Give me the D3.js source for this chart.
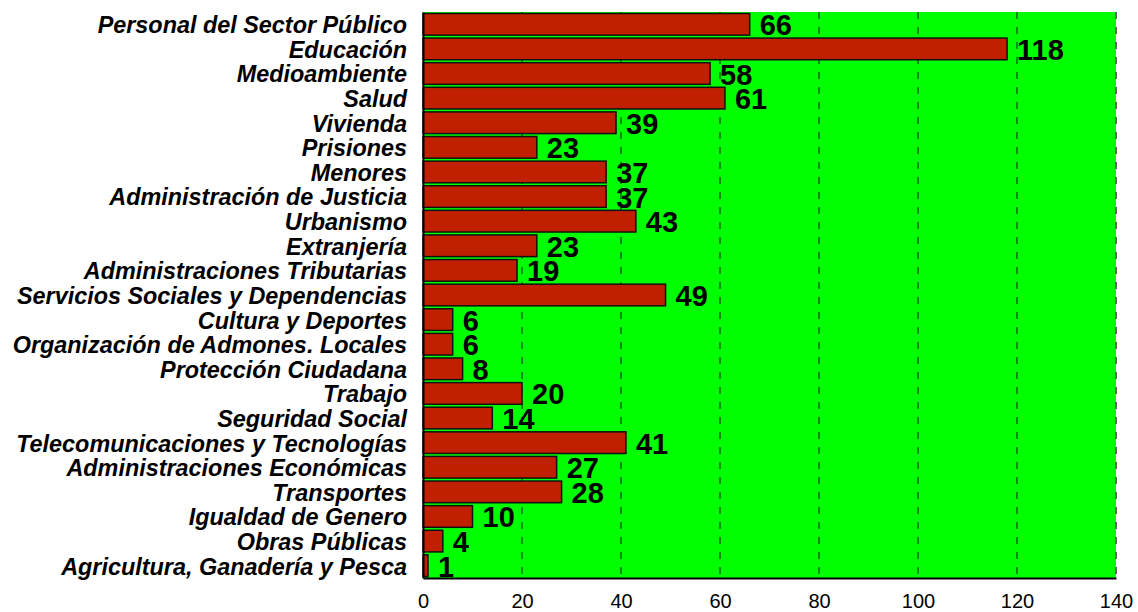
<!DOCTYPE html>
<html>
<head>
<meta charset="utf-8">
<script src="https://cdn.jsdelivr.net/npm/d3@7"></script>
<style>
  body { margin: 0; background: #fff; }
  svg { display: block; }
</style>
</head>
<body>
<svg id="chart"></svg>
<script>
// categories, top to bottom
const categories = [
  "Personal del Sector Público",
  "Educación",
  "Medioambiente",
  "Salud",
  "Vivienda",
  "Prisiones",
  "Menores",
  "Administración de Justicia",
  "Urbanismo",
  "Extranjería",
  "Administraciones Tributarias",
  "Servicios Sociales y Dependencias",
  "Cultura y Deportes",
  "Organización de Admones. Locales",
  "Protección Ciudadana",
  "Trabajo",
  "Seguridad Social",
  "Telecomunicaciones y Tecnologías",
  "Administraciones Económicas",
  "Transportes",
  "Igualdad de Genero",
  "Obras Públicas",
  "Agricultura, Ganadería y Pesca"
];
const values = [66, 118, 58, 61, 39, 23, 37, 37, 43, 23, 19, 49, 6, 6, 8, 20, 14, 41, 27, 28, 10, 4, 1];
const xTicks = [0, 20, 40, 60, 80, 100, 120, 140];

const W = 1138, H = 612;
const margin = { top: 12, right: 22, bottom: 34, left: 423 };
const width = W - margin.left - margin.right;
const height = H - margin.top - margin.bottom;

const svg = d3.select('#chart').attr('width', W).attr('height', H);
const g = svg.append('g').attr('transform', `translate(${margin.left},${margin.top})`);

const x = d3.scaleLinear().domain([0, 140]).range([0, width]);
const y = d3.scaleBand().domain(categories).range([0, height])
  .paddingInner(0.12).paddingOuter(0.06);

// green plot background
g.append('rect')
  .attr('width', width).attr('height', height)
  .attr('fill', '#00ff00');

// dashed grid lines
g.selectAll('.grid')
  .data(xTicks.slice(1))
  .enter()
  .append('line')
  .attr('x1', d => x(d)).attr('x2', d => x(d))
  .attr('y1', 0).attr('y2', height)
  .attr('stroke', d => d === 140 ? '#666' : '#1c1c1c')
  .attr('stroke-width', d => d === 140 ? 2 : 1)
  .attr('stroke-dasharray', '7,8');

// bars
g.selectAll('.bar')
  .data(categories)
  .enter()
  .append('rect')
  .attr('x', 0)
  .attr('y', d => y(d))
  .attr('width', (d, i) => x(values[i]))
  .attr('height', y.bandwidth())
  .attr('fill', '#c02000')
  .attr('stroke', '#111')
  .attr('stroke-width', 1.5);

// value labels
g.selectAll('.val')
  .data(categories)
  .enter()
  .append('text')
  .attr('x', (d, i) => x(values[i]) + 10)
  .attr('y', d => y(d) + y.bandwidth() / 2)
  .attr('dy', '0.38em')
  .style('font-family', 'Arial, "Liberation Sans", sans-serif')
  .style('font-weight', 'bold')
  .style('font-size', '29px')
  .attr('fill', '#000')
  .text((d, i) => values[i]);

// axes
const xAxis = g.append('g')
  .attr('transform', `translate(0,${height})`)
  .call(d3.axisBottom(x).tickValues(xTicks).tickSize(0).tickPadding(16));
xAxis.select('.domain').attr('stroke', '#000').attr('stroke-width', 2);
xAxis.selectAll('text')
  .style('font-family', 'Arial, "Liberation Sans", sans-serif')
  .style('font-size', '20px')
  .attr('fill', '#000');

const yAxis = g.append('g')
  .call(d3.axisLeft(y).tickSize(0).tickPadding(16));
yAxis.select('.domain').attr('stroke', '#000').attr('stroke-width', 2);
yAxis.selectAll('text')
  .attr('dy', '0.38em')
  .style('font-family', 'Arial, "Liberation Sans", sans-serif')
  .style('font-weight', 'bold')
  .style('font-style', 'italic')
  .style('font-size', '23.4px')
  .attr('fill', '#000');
</script>
</body>
</html>
